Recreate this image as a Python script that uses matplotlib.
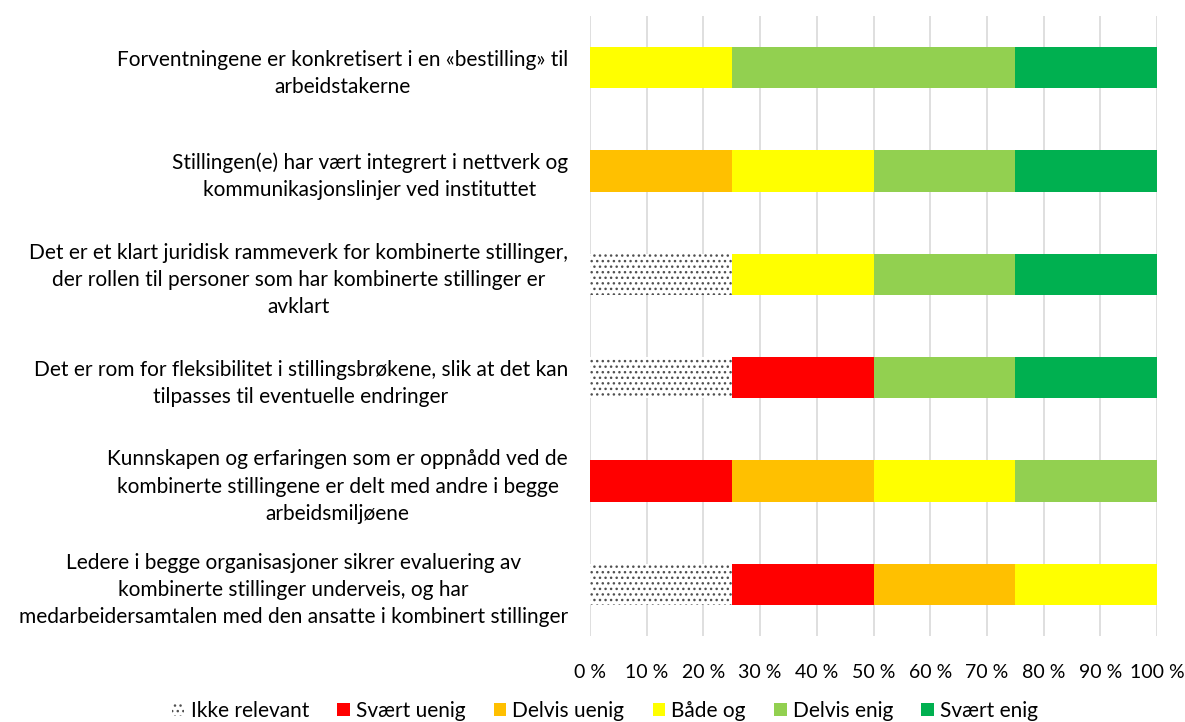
import numpy as np
import matplotlib.pyplot as plt
from matplotlib.patches import Patch

plt.rcParams['font.family'] = ['Lato', 'DejaVu Sans']
plt.rcParams['hatch.linewidth'] = 1.0

statements = [
    'Forventningene er konkretisert i en «bestilling» til\narbeidstakerne',
    'Stillingen(e) har vært integrert i nettverk og\nkommunikasjonslinjer ved instituttet',
    'Det er et klart juridisk rammeverk for kombinerte stillinger,\nder rollen til personer som har kombinerte stillinger er\navklart',
    'Det er rom for fleksibilitet i stillingsbrøkene, slik at det kan\ntilpasses til eventuelle endringer',
    'Kunnskapen og erfaringen som er oppnådd ved de\nkombinerte stillingene er delt med andre i begge\narbeidsmiljøene',
    'Ledere i begge organisasjoner sikrer evaluering av\nkombinerte stillinger underveis, og har\nmedarbeidersamtalen med den ansatte i kombinert stillinger',
]
categories = ['Ikke relevant', 'Svært uenig', 'Delvis uenig', 'Både og', 'Delvis enig', 'Svært enig']
ikke_relevant = [0, 0, 25, 25, 0, 25]
svaert_uenig = [0, 0, 0, 25, 25, 25]
delvis_uenig = [0, 25, 0, 0, 25, 25]
baade_og = [25, 25, 25, 0, 25, 25]
delvis_enig = [50, 25, 25, 25, 25, 0]
svaert_enig = [25, 25, 25, 25, 0, 0]
x_ticks = [0, 10, 20, 30, 40, 50, 60, 70, 80, 90, 100]

series = [ikke_relevant, svaert_uenig, delvis_uenig, baade_og, delvis_enig, svaert_enig]
colors = ['white', '#FF0000', '#FFC000', '#FFFF00', '#92D050', '#00B050']
hatch_col = '#505050'

fig = plt.figure(figsize=(11.85, 7.22), dpi=100)
ax = fig.add_axes([590 / 1185, 1 - 636 / 722, (1157 - 590) / 1185, (636 - 16) / 722])

y = np.arange(len(statements))
left = np.zeros(len(statements))
for i, (vals, col) in enumerate(zip(series, colors)):
    vals = np.array(vals, dtype=float)
    if i == 0:
        ax.barh(y, vals, left=left, height=0.4, color='white', hatch='...',
                edgecolor=hatch_col, linewidth=0, zorder=3)
    else:
        ax.barh(y, vals, left=left, height=0.4, color=col, edgecolor='none', zorder=3)
    left += vals

ax.set_xlim(0, 100)
ax.set_ylim(len(statements) - 0.5, -0.5)
ax.set_yticks(y)
ax.set_yticklabels(statements, fontsize=15, multialignment='center', linespacing=1.45)
ax.set_xticks(x_ticks)
ax.set_xticklabels([f'{t} %' for t in x_ticks], fontsize=14)
ax.tick_params(length=0)
ax.tick_params(axis='y', pad=16)
ax.tick_params(axis='x', pad=20)
ax.xaxis.grid(True, color='#D9D9D9', linewidth=1.2, zorder=0)
ax.set_axisbelow(True)
for s in ax.spines.values():
    s.set_visible(False)

handles = [Patch(facecolor='white', hatch='...', edgecolor=hatch_col, linewidth=0, label=categories[0])]
handles += [Patch(facecolor=c, label=l) for c, l in zip(colors[1:], categories[1:])]
fig.legend(handles=handles, loc='center', bbox_to_anchor=(605 / 1185, 1 - 711 / 722),
           ncol=6, frameon=False, fontsize=15, handlelength=0.6, handleheight=0.6,
           handletextpad=0.3, columnspacing=1.35)

fig.savefig('out.png', dpi=100)
